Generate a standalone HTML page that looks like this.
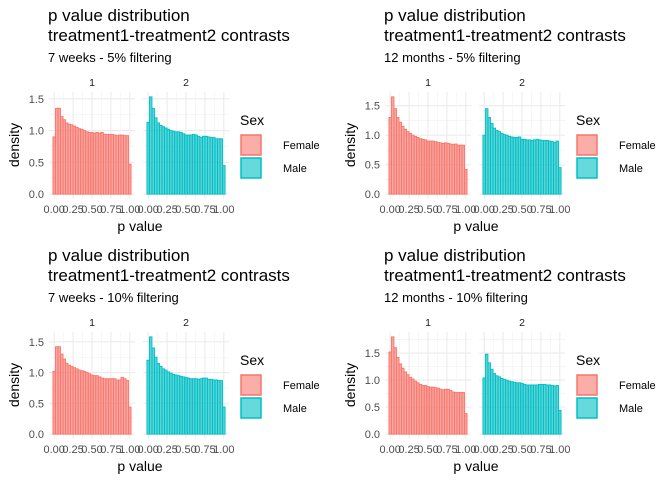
<!DOCTYPE html>
<html><head><meta charset="utf-8"><style>
body{margin:0;background:#fff}
svg{display:block;font-family:"Liberation Sans",sans-serif}
</style></head><body>
<svg id="chart" width="672" height="480" xmlns="http://www.w3.org/2000/svg"></svg>
<script>
const panelTitles=["7 weeks - 5% filtering","12 months - 5% filtering","7 weeks - 10% filtering","12 months - 10% filtering"];
const facetLabels=["1","2"];
const sexLabels=["Female","Male"];
const yTicks=[0,0.5,1.0,1.5];
const xTicks=[0,0.25,0.5,0.75,1.0];
const xTickLabels=["0.00","0.25","0.50","0.75","1.00"];
const p1F=[0.9,1.35,1.35,1.22,1.17,1.12,1.1,1.09,1.07,1.05,1.03,1.02,1.0,0.98,0.97,0.97,0.96,0.97,0.96,0.97,0.94,0.94,0.94,0.94,0.93,0.92,0.93,0.93,0.92,0.92,0.47];
const p1M=[1.13,1.53,1.35,1.2,1.12,1.08,1.06,1.04,1.02,1.0,0.99,0.98,0.98,0.97,0.95,0.93,0.93,0.93,0.94,0.93,0.91,0.89,0.91,0.91,0.9,0.89,0.89,0.87,0.87,0.87,0.45];
const p2F=[1.3,1.65,1.45,1.3,1.22,1.15,1.1,1.06,1.03,1.0,0.98,0.96,0.94,0.93,0.92,0.9,0.9,0.9,0.89,0.88,0.87,0.86,0.87,0.86,0.85,0.84,0.85,0.83,0.83,0.83,0.42];
const p2M=[1.0,1.45,1.3,1.2,1.12,1.08,1.06,1.03,1.01,1.0,0.98,0.97,0.96,0.96,0.97,0.93,0.93,0.92,0.92,0.91,0.92,0.93,0.92,0.91,0.91,0.91,0.9,0.89,0.88,0.9,0.45];
const p3F=[1.02,1.42,1.42,1.3,1.22,1.15,1.12,1.1,1.08,1.06,1.04,1.03,1.02,1.0,0.98,0.96,0.95,0.95,0.93,0.91,0.9,0.9,0.9,0.9,0.9,0.88,0.88,0.92,0.9,0.87,0.44];
const p3M=[1.2,1.58,1.4,1.25,1.15,1.1,1.06,1.04,1.01,0.99,0.97,0.96,0.95,0.94,0.93,0.92,0.91,0.9,0.9,0.9,0.89,0.9,0.91,0.91,0.89,0.89,0.88,0.88,0.87,0.87,0.44];
const p4F=[1.52,1.8,1.6,1.42,1.3,1.22,1.15,1.1,1.05,1.02,0.98,0.95,0.92,0.9,0.9,0.88,0.87,0.87,0.86,0.85,0.83,0.82,0.83,0.83,0.81,0.78,0.77,0.77,0.77,0.77,0.38];
const p4M=[1.04,1.48,1.32,1.2,1.12,1.08,1.06,1.03,1.01,1.0,0.98,0.97,0.96,0.95,0.95,0.94,0.92,0.91,0.91,0.91,0.91,0.91,0.92,0.92,0.92,0.91,0.91,0.9,0.89,0.9,0.44];
const series=[[p1F,p1M],[p2F,p2M],[p3F,p3M],[p4F,p4M]];
const fills=["#F8766D","#00BFC4"];
const NS="http://www.w3.org/2000/svg";
const svg=document.getElementById('chart');
function mk(tag,attrs,parent,text){const e=document.createElementNS(NS,tag);for(const k in attrs)e.setAttribute(k,attrs[k]);if(text!==undefined)e.textContent=text;(parent||svg).appendChild(e);return e;}
series.forEach((ser,pi)=>{
  const ox=(pi%2)*336, oy=Math.floor(pi/2)*240;
  const g=mk('g',{transform:`translate(${ox},${oy})`});
  
  
  const t1=mk('text',{x:48,y:21,'font-size':17,fill:'#000'},g,'p value distribution');
  
  const t2=mk('text',{x:48,y:41,'font-size':17,fill:'#000'},g,'treatment1-treatment2 contrasts');
  
  const st=mk('text',{x:48,y:62,'font-size':13,fill:'#000'},g,panelTitles[pi]);
  
  const M=Math.max(...ser[0],...ser[1]);
  const yTop=92,yBot=199;
  const yLo=-0.05*M,yHi=1.05*M;
  const ys=v=>yBot-(v-yLo)/(yHi-yLo)*(yBot-yTop);
  const xLo=-1/60-0.05*(1+1/30),xHi=1+1/60+0.05*(1+1/30);
  [49,143].forEach((fx,fi)=>{
    const fw=86;
    const xs=v=>fx+(v-xLo)/(xHi-xLo)*fw;
    const minorY=[0.25,0.75,1.25,1.75];
    minorY.forEach(v=>{if(v<yHi)mk('line',{x1:fx,x2:fx+fw,y1:ys(v),y2:ys(v),stroke:'#f2f2f2','stroke-width':0.6},g);});
    yTicks.forEach(v=>{if(v<yHi)mk('line',{x1:fx,x2:fx+fw,y1:ys(v),y2:ys(v),stroke:'#ebebeb','stroke-width':1.1},g);});
    [0.125,0.375,0.625,0.875].forEach(v=>mk('line',{x1:xs(v),x2:xs(v),y1:yTop,y2:yBot,stroke:'#f2f2f2','stroke-width':0.6},g));
    xTicks.forEach(v=>mk('line',{x1:xs(v),x2:xs(v),y1:yTop,y2:yBot,stroke:'#ebebeb','stroke-width':1.1},g));
    const fl=mk('text',{x:fx+fw/2,y:86,'font-size':10.5,'text-anchor':'middle',fill:'#1a1a1a'},g,facetLabels[fi]);
    
    ser[fi].forEach((v,k)=>{
      const c=k/30;
      const r=mk('rect',{x:xs(c-1/60),y:ys(v),width:xs(c+1/60)-xs(c-1/60),height:ys(0)-ys(v),fill:fills[fi],'fill-opacity':0.65,stroke:fills[fi],'stroke-width':0.9},g);
      
      
    });
    xTicks.forEach((v,i)=>{const tl=mk('text',{x:xs(v),y:213,'font-size':11,'text-anchor':'middle',fill:'#4d4d4d'},g,xTickLabels[i]);
      });
  });
  yTicks.forEach(v=>{if(v<yHi){const tl=mk('text',{x:44,y:ys(v)+4,'font-size':11,'text-anchor':'end',fill:'#4d4d4d'},g,v.toFixed(1));
    }});
  const xt=mk('text',{x:140,y:231,'font-size':14,'text-anchor':'middle',fill:'#000'},g,'p value');
  
  const yt=mk('text',{x:0,y:0,'font-size':14,'text-anchor':'middle',fill:'#000',transform:'translate(19,145) rotate(-90)'},g,'density');
  
  const lt=mk('text',{x:240,y:125,'font-size':14,fill:'#000'},g,'Sex');
  
  sexLabels.forEach((s,i)=>{
    const y0=135+i*23;
    const k=mk('rect',{x:241,y:y0,width:20,height:20,fill:fills[i],'fill-opacity':0.6,stroke:fills[i],'stroke-width':1.5},g);
    
    const lx=mk('text',{x:283,y:y0+14,'font-size':11,fill:'#000'},g,s);
    
  });
});
</script>
</body></html>
